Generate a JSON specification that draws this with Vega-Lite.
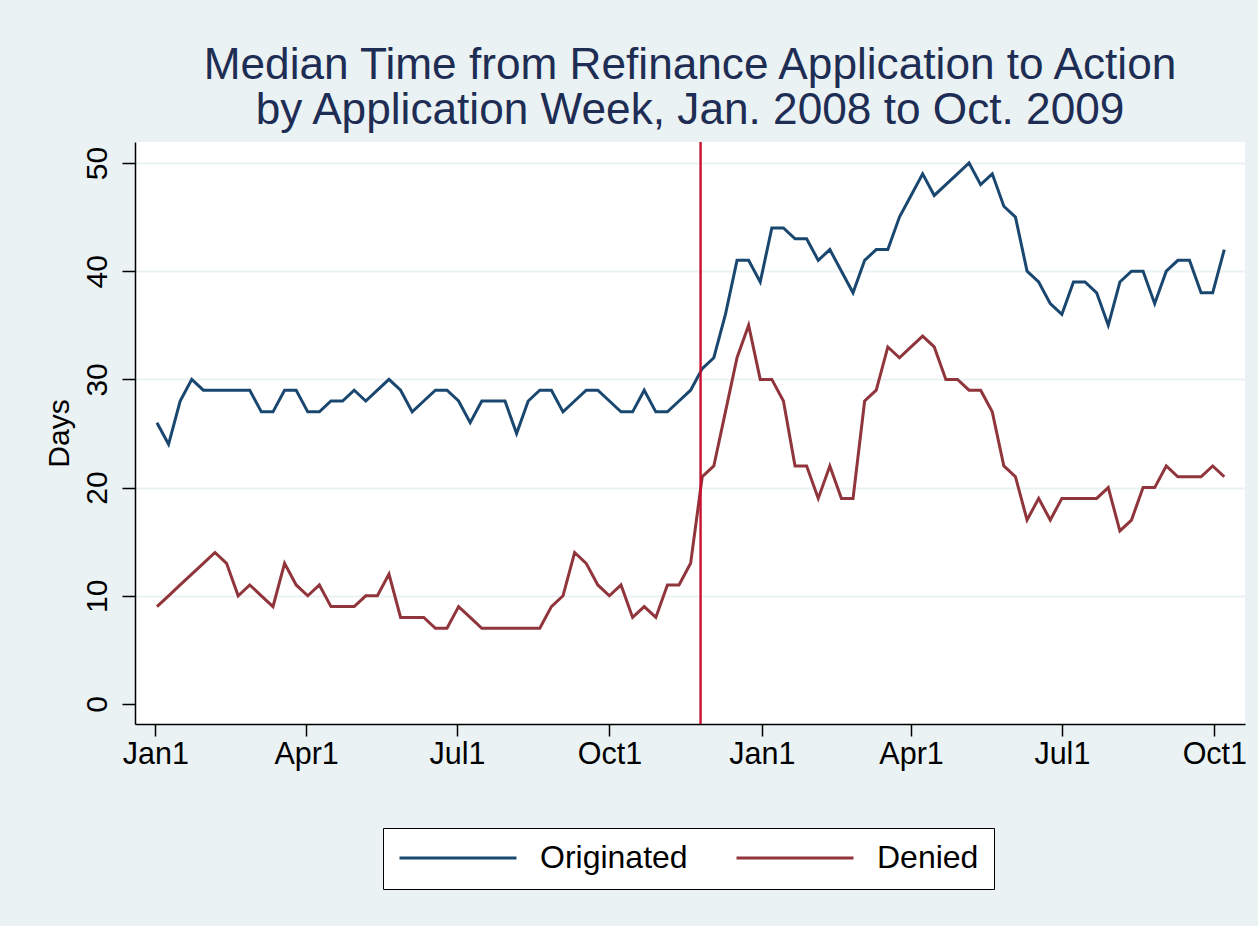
{
  "$schema": "https://vega.github.io/schema/vega-lite/v6.json",
  "width": 1110,
  "height": 582,
  "autosize": {"type": "none"},
  "padding": {"left": 135, "top": 142, "right": 13, "bottom": 202},
  "background": "#EAF2F3",
  "title": {
    "text": ["Median Time from Refinance Application to Action", "by Application Week, Jan. 2008 to Oct. 2009"],
    "font": "Liberation Sans",
    "fontSize": 44.2,
    "fontWeight": "normal",
    "color": "#1e2d54",
    "lineHeight": 45,
    "anchor": "middle",
    "frame": "group",
    "offset": 8
  },
  "config": {
    "view": {"fill": "white", "stroke": null},
    "axis": {
      "labelFont": "Liberation Sans",
      "titleFont": "Liberation Sans",
      "labelColor": "black",
      "titleColor": "black",
      "domainColor": "black",
      "domainWidth": 1.5,
      "tickColor": "black",
      "tickWidth": 1.5
    },
    "legend": {
      "orient": "none",
      "legendX": 248,
      "legendY": 686,
      "direction": "horizontal",
      "fillColor": "white",
      "strokeColor": "black",
      "padding": 15,
      "clipHeight": 30,
      "symbolType": "stroke",
      "symbolSize": 13689,
      "symbolStrokeWidth": 3,
      "labelFont": "Liberation Sans",
      "labelFontSize": 32,
      "labelColor": "black",
      "labelOffset": 22,
      "columnPadding": 47
    }
  },
  "layer": [
    {
      "data": {
        "values": [
          {"week": "2008-01-02", "Originated": 26, "Denied": 9},
          {"week": "2008-01-09", "Originated": 24, "Denied": 10},
          {"week": "2008-01-16", "Originated": 28, "Denied": 11},
          {"week": "2008-01-23", "Originated": 30, "Denied": 12},
          {"week": "2008-01-30", "Originated": 29, "Denied": 13},
          {"week": "2008-02-06", "Originated": 29, "Denied": 14},
          {"week": "2008-02-13", "Originated": 29, "Denied": 13},
          {"week": "2008-02-20", "Originated": 29, "Denied": 10},
          {"week": "2008-02-27", "Originated": 29, "Denied": 11},
          {"week": "2008-03-05", "Originated": 27, "Denied": 10},
          {"week": "2008-03-12", "Originated": 27, "Denied": 9},
          {"week": "2008-03-19", "Originated": 29, "Denied": 13},
          {"week": "2008-03-26", "Originated": 29, "Denied": 11},
          {"week": "2008-04-02", "Originated": 27, "Denied": 10},
          {"week": "2008-04-09", "Originated": 27, "Denied": 11},
          {"week": "2008-04-16", "Originated": 28, "Denied": 9},
          {"week": "2008-04-23", "Originated": 28, "Denied": 9},
          {"week": "2008-04-30", "Originated": 29, "Denied": 9},
          {"week": "2008-05-07", "Originated": 28, "Denied": 10},
          {"week": "2008-05-14", "Originated": 29, "Denied": 10},
          {"week": "2008-05-21", "Originated": 30, "Denied": 12},
          {"week": "2008-05-28", "Originated": 29, "Denied": 8},
          {"week": "2008-06-04", "Originated": 27, "Denied": 8},
          {"week": "2008-06-11", "Originated": 28, "Denied": 8},
          {"week": "2008-06-18", "Originated": 29, "Denied": 7},
          {"week": "2008-06-25", "Originated": 29, "Denied": 7},
          {"week": "2008-07-02", "Originated": 28, "Denied": 9},
          {"week": "2008-07-09", "Originated": 26, "Denied": 8},
          {"week": "2008-07-16", "Originated": 28, "Denied": 7},
          {"week": "2008-07-23", "Originated": 28, "Denied": 7},
          {"week": "2008-07-30", "Originated": 28, "Denied": 7},
          {"week": "2008-08-06", "Originated": 25, "Denied": 7},
          {"week": "2008-08-13", "Originated": 28, "Denied": 7},
          {"week": "2008-08-20", "Originated": 29, "Denied": 7},
          {"week": "2008-08-27", "Originated": 29, "Denied": 9},
          {"week": "2008-09-03", "Originated": 27, "Denied": 10},
          {"week": "2008-09-10", "Originated": 28, "Denied": 14},
          {"week": "2008-09-17", "Originated": 29, "Denied": 13},
          {"week": "2008-09-24", "Originated": 29, "Denied": 11},
          {"week": "2008-10-01", "Originated": 28, "Denied": 10},
          {"week": "2008-10-08", "Originated": 27, "Denied": 11},
          {"week": "2008-10-15", "Originated": 27, "Denied": 8},
          {"week": "2008-10-22", "Originated": 29, "Denied": 9},
          {"week": "2008-10-29", "Originated": 27, "Denied": 8},
          {"week": "2008-11-05", "Originated": 27, "Denied": 11},
          {"week": "2008-11-12", "Originated": 28, "Denied": 11},
          {"week": "2008-11-19", "Originated": 29, "Denied": 13},
          {"week": "2008-11-26", "Originated": 31, "Denied": 21},
          {"week": "2008-12-03", "Originated": 32, "Denied": 22},
          {"week": "2008-12-10", "Originated": 36, "Denied": 27},
          {"week": "2008-12-17", "Originated": 41, "Denied": 32},
          {"week": "2008-12-24", "Originated": 41, "Denied": 35},
          {"week": "2008-12-31", "Originated": 39, "Denied": 30},
          {"week": "2009-01-07", "Originated": 44, "Denied": 30},
          {"week": "2009-01-14", "Originated": 44, "Denied": 28},
          {"week": "2009-01-21", "Originated": 43, "Denied": 22},
          {"week": "2009-01-28", "Originated": 43, "Denied": 22},
          {"week": "2009-02-04", "Originated": 41, "Denied": 19},
          {"week": "2009-02-11", "Originated": 42, "Denied": 22},
          {"week": "2009-02-18", "Originated": 40, "Denied": 19},
          {"week": "2009-02-25", "Originated": 38, "Denied": 19},
          {"week": "2009-03-04", "Originated": 41, "Denied": 28},
          {"week": "2009-03-11", "Originated": 42, "Denied": 29},
          {"week": "2009-03-18", "Originated": 42, "Denied": 33},
          {"week": "2009-03-25", "Originated": 45, "Denied": 32},
          {"week": "2009-04-01", "Originated": 47, "Denied": 33},
          {"week": "2009-04-08", "Originated": 49, "Denied": 34},
          {"week": "2009-04-15", "Originated": 47, "Denied": 33},
          {"week": "2009-04-22", "Originated": 48, "Denied": 30},
          {"week": "2009-04-29", "Originated": 49, "Denied": 30},
          {"week": "2009-05-06", "Originated": 50, "Denied": 29},
          {"week": "2009-05-13", "Originated": 48, "Denied": 29},
          {"week": "2009-05-20", "Originated": 49, "Denied": 27},
          {"week": "2009-05-27", "Originated": 46, "Denied": 22},
          {"week": "2009-06-03", "Originated": 45, "Denied": 21},
          {"week": "2009-06-10", "Originated": 40, "Denied": 17},
          {"week": "2009-06-17", "Originated": 39, "Denied": 19},
          {"week": "2009-06-24", "Originated": 37, "Denied": 17},
          {"week": "2009-07-01", "Originated": 36, "Denied": 19},
          {"week": "2009-07-08", "Originated": 39, "Denied": 19},
          {"week": "2009-07-15", "Originated": 39, "Denied": 19},
          {"week": "2009-07-22", "Originated": 38, "Denied": 19},
          {"week": "2009-07-29", "Originated": 35, "Denied": 20},
          {"week": "2009-08-05", "Originated": 39, "Denied": 16},
          {"week": "2009-08-12", "Originated": 40, "Denied": 17},
          {"week": "2009-08-19", "Originated": 40, "Denied": 20},
          {"week": "2009-08-26", "Originated": 37, "Denied": 20},
          {"week": "2009-09-02", "Originated": 40, "Denied": 22},
          {"week": "2009-09-09", "Originated": 41, "Denied": 21},
          {"week": "2009-09-16", "Originated": 41, "Denied": 21},
          {"week": "2009-09-23", "Originated": 38, "Denied": 21},
          {"week": "2009-09-30", "Originated": 38, "Denied": 22},
          {"week": "2009-10-07", "Originated": 42, "Denied": 21}
        ]
      },
      "transform": [{"fold": ["Originated", "Denied"], "as": ["series", "days"]}],
      "mark": {"type": "line", "strokeWidth": 3},
      "encoding": {
        "x": {
          "field": "week",
          "type": "temporal",
          "title": null,
          "scale": {
            "type": "utc",
            "domain": [
              {"year": 2007, "month": 12, "date": 19, "hours": 18, "utc": true},
              {"year": 2009, "month": 10, "date": 19, "hours": 12, "utc": true}
            ]
          },
          "axis": {
            "values": [
              {"year": 2008, "month": 1, "date": 1, "utc": true},
              {"year": 2008, "month": 4, "date": 1, "utc": true},
              {"year": 2008, "month": 7, "date": 1, "utc": true},
              {"year": 2008, "month": 10, "date": 1, "utc": true},
              {"year": 2009, "month": 1, "date": 1, "utc": true},
              {"year": 2009, "month": 4, "date": 1, "utc": true},
              {"year": 2009, "month": 7, "date": 1, "utc": true},
              {"year": 2009, "month": 10, "date": 1, "utc": true}
            ],
            "format": "%b%-d",
            "labelFontSize": 30.5,
            "labelPadding": 3,
            "tickSize": 12,
            "grid": false,
            "labelFlush": false,
            "labelOverlap": false
          }
        },
        "y": {
          "field": "days",
          "type": "quantitative",
          "title": "Days",
          "scale": {"domain": [-1.85, 51.94], "nice": false, "zero": false},
          "axis": {
            "values": [0, 10, 20, 30, 40, 50],
            "labelAngle": -90,
            "labelFontSize": 30,
            "labelPadding": 10,
            "tickSize": 13,
            "titleFontSize": 30,
            "titleFontWeight": "normal",
            "titlePadding": 8,
            "grid": true,
            "gridWidth": 2,
            "gridColor": {"condition": {"test": "datum.value === 0", "value": "rgba(0,0,0,0)"}, "value": "#EAF2F3"}
          }
        },
        "color": {
          "field": "series",
          "type": "nominal",
          "title": null,
          "scale": {"domain": ["Originated", "Denied"], "range": ["#1a476f", "#90353b"]}
        }
      }
    },
    {
      "data": {"values": [{"date": "2008-11-25"}]},
      "mark": {"type": "rule", "color": "#c8102e", "strokeWidth": 2.4},
      "encoding": {
        "x": {"field": "date", "type": "temporal", "title": null}
      }
    }
  ]
}
